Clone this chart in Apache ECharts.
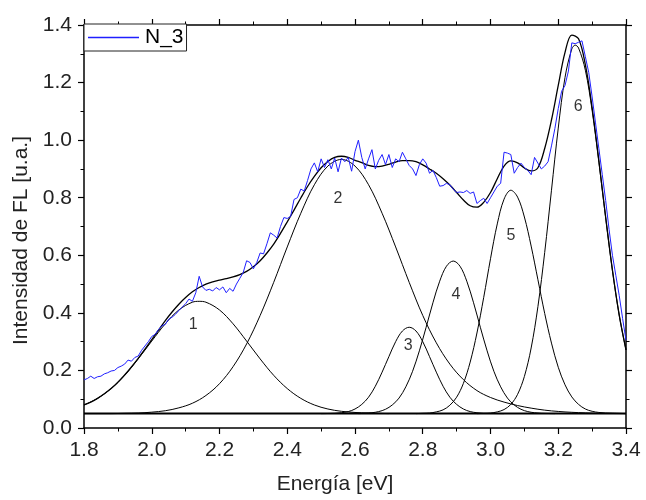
<!DOCTYPE html>
<html>
<head>
<meta charset="utf-8">
<script src="https://cdn.jsdelivr.net/npm/echarts@6/dist/echarts.min.js"></script>
<style>html,body{margin:0;padding:0;background:#fff}#c{width:646px;height:500px}</style>
</head>
<body>
<div id="c"></div>
<script>
// ---- Data ----
const n3Energy = [1.80,1.81,1.82,1.83,1.84,1.85,1.86,1.87,1.88,1.89,1.90,1.91,1.92,1.93,1.94,1.95,1.96,1.97,1.98,1.99,
2.00,2.01,2.02,2.03,2.04,2.05,2.06,2.07,2.08,2.09,2.10,2.11,2.12,2.13,2.14,2.15,2.16,2.17,2.18,2.19,
2.20,2.21,2.22,2.23,2.24,2.25,2.26,2.27,2.28,2.29,2.30,2.31,2.32,2.33,2.34,2.35,2.36,2.37,2.38,2.39,
2.40,2.41,2.42,2.43,2.44,2.45,2.46,2.47,2.48,2.49,2.50,2.51,2.52,2.53,2.54,2.55,2.56,2.57,2.58,2.59,
2.60,2.61,2.62,2.63,2.64,2.65,2.66,2.67,2.68,2.69,2.70,2.71,2.72,2.73,2.74,2.75,2.76,2.77,2.78,2.79,
2.80,2.81,2.82,2.83,2.84,2.85,2.86,2.87,2.88,2.89,2.90,2.91,2.92,2.93,2.94,2.95,2.96,2.97,2.98,2.99,
3.00,3.01,3.02,3.03,3.04,3.05,3.06,3.07,3.08,3.09,3.10,3.11,3.12,3.13,3.14,3.15,3.16,3.17,3.18,3.19,
3.20,3.21,3.22,3.23,3.24,3.25,3.26,3.27,3.28,3.29,3.30,3.31,3.32,3.33,3.34,3.35,3.36,3.37,3.38,3.39,3.40];
const n3Values = [0.167,0.172,0.180,0.172,0.178,0.180,0.188,0.192,0.198,0.200,0.210,0.215,0.222,0.236,0.232,0.245,0.250,0.270,0.285,0.300,
0.318,0.325,0.342,0.355,0.360,0.378,0.385,0.395,0.408,0.420,0.432,0.448,0.440,0.470,0.527,0.490,0.478,0.482,0.476,0.488,
0.480,0.490,0.470,0.485,0.475,0.500,0.520,0.540,0.581,0.575,0.553,0.575,0.608,0.605,0.640,0.678,0.670,0.660,0.700,0.731,
0.728,0.735,0.794,0.800,0.830,0.823,0.860,0.900,0.921,0.890,0.935,0.905,0.932,0.900,0.938,0.890,0.938,0.925,0.940,0.892,
0.960,1.000,0.940,0.900,0.935,0.967,0.900,0.930,0.950,0.915,0.950,0.905,0.935,0.925,0.958,0.935,0.912,0.900,0.877,0.915,
0.935,0.920,0.885,0.895,0.870,0.840,0.842,0.850,0.845,0.830,0.818,0.820,0.818,0.825,0.815,0.820,0.780,0.790,0.798,0.780,
0.800,0.820,0.840,0.850,0.958,0.955,0.950,0.885,0.905,0.920,0.905,0.895,0.880,0.940,0.920,0.900,0.910,0.925,0.980,1.040,
1.110,1.170,1.190,1.240,1.338,1.335,1.340,1.345,1.290,1.235,1.150,1.060,0.970,0.880,0.790,0.690,0.600,0.530,0.460,0.380,0.305];

const fitEnergy = [1.80,1.82,1.84,1.86,1.88,1.90,1.92,1.94,1.96,1.98,2.00,2.02,2.04,2.06,2.08,2.10,2.12,2.14,2.16,2.18,
2.20,2.22,2.24,2.26,2.28,2.30,2.32,2.34,2.36,2.38,2.40,2.42,2.44,2.46,2.48,2.50,2.52,2.54,2.56,2.58,
2.60,2.62,2.64,2.66,2.68,2.70,2.72,2.74,2.76,2.78,2.80,2.82,2.84,2.86,2.88,2.90,2.92,2.94,2.96,2.98,
3.00,3.02,3.04,3.06,3.08,3.10,3.12,3.14,3.16,3.18,3.20,3.22,3.24,3.26,3.28,3.30,3.32,3.34,3.36,3.38,3.40];
const fitTotal = [0.080,0.090,0.103,0.119,0.137,0.159,0.184,0.212,0.242,0.274,0.307,0.340,0.373,0.403,0.430,0.453,0.473,0.488,0.500,0.508,
0.514,0.519,0.525,0.533,0.544,0.560,0.581,0.608,0.639,0.676,0.716,0.757,0.799,0.839,0.874,0.904,0.926,0.940,0.944,0.940,
0.930,0.922,0.912,0.908,0.910,0.916,0.924,0.929,0.929,0.925,0.914,0.900,0.885,0.866,0.844,0.818,0.792,0.772,0.767,0.784,
0.818,0.866,0.910,0.928,0.921,0.903,0.893,0.904,0.971,1.070,1.190,1.305,1.365,1.352,1.262,1.113,0.928,0.732,0.548,0.392,0.271];

const peak1 = [[1.80,0.080],[1.84,0.103],[1.88,0.137],[1.92,0.183],[1.96,0.240],[2.00,0.302],[2.04,0.362],[2.08,0.410],[2.12,0.437],[2.14,0.440],[2.16,0.437],[2.20,0.410],[2.24,0.362],[2.28,0.302],[2.32,0.240],[2.36,0.183],[2.40,0.137],[2.44,0.103],[2.48,0.080],[2.52,0.066],[2.56,0.058],[2.60,0.054],[2.64,0.052],[2.70,0.050]];
const peak2 = [[1.80,0.050],[1.88,0.050],[1.92,0.051],[1.96,0.052],[2.00,0.055],[2.04,0.060],[2.08,0.070],[2.12,0.086],[2.16,0.113],[2.20,0.154],[2.24,0.213],[2.28,0.292],[2.32,0.391],[2.36,0.506],[2.40,0.629],[2.44,0.746],[2.48,0.845],[2.52,0.910],[2.56,0.933],[2.60,0.910],[2.64,0.845],[2.68,0.746],[2.72,0.629],[2.76,0.506],[2.80,0.391],[2.84,0.296],[2.88,0.222],[2.92,0.168],[2.96,0.130],[3.00,0.106],[3.04,0.090],[3.08,0.078],[3.12,0.069],[3.16,0.062],[3.20,0.0575],[3.24,0.0545],[3.28,0.0525],[3.32,0.051],[3.40,0.050]];
const peak3 = [[2.50,0.050],[2.54,0.051],[2.56,0.053],[2.58,0.057],[2.60,0.066],[2.62,0.082],[2.64,0.107],[2.66,0.145],[2.68,0.194],[2.70,0.248],[2.72,0.300],[2.74,0.337],[2.76,0.350],[2.78,0.337],[2.80,0.300],[2.82,0.248],[2.84,0.194],[2.86,0.145],[2.88,0.107],[2.90,0.082],[2.92,0.066],[2.94,0.057],[2.96,0.053],[2.98,0.051],[3.04,0.050]];
const peak4 = [[2.61,0.050],[2.63,0.051],[2.65,0.053],[2.67,0.057],[2.69,0.065],[2.71,0.080],[2.73,0.104],[2.75,0.143],[2.77,0.197],[2.79,0.268],[2.81,0.350],[2.83,0.435],[2.85,0.510],[2.87,0.562],[2.89,0.580],[2.91,0.562],[2.93,0.510],[2.95,0.435],[2.97,0.350],[2.99,0.268],[3.01,0.197],[3.03,0.143],[3.05,0.104],[3.07,0.080],[3.09,0.065],[3.11,0.057],[3.13,0.053],[3.15,0.051],[3.19,0.050]];
const peak5 = [[2.78,0.050],[2.80,0.051],[2.82,0.052],[2.84,0.056],[2.86,0.063],[2.88,0.079],[2.90,0.107],[2.92,0.155],[2.94,0.229],[2.96,0.330],[2.98,0.454],[3.00,0.588],[3.02,0.709],[3.04,0.795],[3.06,0.826],[3.08,0.802],[3.10,0.733],[3.12,0.632],[3.14,0.515],[3.16,0.398],[3.18,0.295],[3.20,0.211],[3.22,0.150],[3.24,0.108],[3.26,0.082],[3.28,0.066],[3.30,0.058],[3.32,0.054],[3.34,0.052],[3.36,0.0515],[3.40,0.050]];
const peak6 = [[2.96,0.050],[2.98,0.0507],[3.00,0.052],[3.02,0.056],[3.04,0.064],[3.06,0.082],[3.08,0.117],[3.10,0.179],[3.12,0.278],[3.14,0.422],[3.16,0.610],[3.18,0.826],[3.20,1.042],[3.22,1.218],[3.24,1.317],[3.25,1.330],[3.26,1.320],[3.28,1.243],[3.30,1.103],[3.32,0.923],[3.34,0.730],[3.36,0.547],[3.38,0.392],[3.40,0.271]];
const baseline = [[1.80,0.05],[3.40,0.05]];
const peakNames = ['1','2','3','4','5','6'];
const peakLabelAt = [[2.122,0.359],[2.550,0.797],[2.757,0.288],[2.898,0.464],[3.060,0.668],[3.259,1.117]];
const xTicks = {min:1.8, max:3.4, step:0.2};
const yTicks = {min:0.0, max:1.4, step:0.2};

// ---- Chart ----
const FONT = 'Liberation Sans, Arial, sans-serif';
const chart = echarts.init(document.getElementById('c'), null, {renderer:'canvas'});
function zip(xs, ys){ return xs.map((x,i)=>[x, ys[i]]); }
const axisCommon = {
  axisLine:{show:true, onZero:false, lineStyle:{color:'#000', width:1.5}},
  axisTick:{show:true, inside:false, length:6, lineStyle:{color:'#000', width:1.2}},
  minorTick:{show:true, splitNumber:2, length:3.5, lineStyle:{color:'#000', width:1}},
  splitLine:{show:false},
  minorSplitLine:{show:false}
};
const blackLine = (name, data, w) => ({
  name, type:'line', data, showSymbol:false, symbol:'none', smooth:0.35,
  lineStyle:{color:'#000', width:w}, silent:true, z:2
});
chart.setOption({
  animation:false,
  backgroundColor:'#fff',
  textStyle:{fontFamily:FONT},
  grid:{left:84, right:20, top:25, bottom:70, containLabel:false},
  legend:{
    data:[{name:'N_3', icon:'rect'}],
    left:84, top:24, orient:'horizontal',
    borderColor:'#222', borderWidth:1, borderRadius:0,
    padding:[3,3,3,4], itemWidth:51, itemHeight:1.4, itemGap:4,
    backgroundColor:'#fff',
    textStyle:{fontSize:21, color:'#000', fontFamily:FONT, padding:[0,0,0,1]}
  },
  xAxis:[
    Object.assign({type:'value', position:'bottom', min:xTicks.min, max:xTicks.max, interval:xTicks.step,
      name:'Energía [eV]', nameLocation:'middle', nameGap:46,
      nameTextStyle:{fontSize:21, color:'#222', fontFamily:FONT, padding:[0,40,0,0]},
      axisLabel:{fontSize:21, color:'#222', margin:12, fontFamily:FONT, formatter:v=>v.toFixed(1)}}, axisCommon),
    Object.assign({type:'value', position:'top', min:xTicks.min, max:xTicks.max, interval:xTicks.step,
      axisLabel:{show:false}}, axisCommon)
  ],
  yAxis:[
    Object.assign({type:'value', position:'left', min:yTicks.min, max:yTicks.max, interval:yTicks.step,
      name:'Intensidad de FL [u.a.]', nameLocation:'middle', nameGap:52,
      nameTextStyle:{fontSize:21, color:'#222', fontFamily:FONT, padding:[0,28,0,0]},
      axisLabel:{fontSize:21, color:'#222', margin:12, fontFamily:FONT, formatter:v=>v.toFixed(1)}}, axisCommon),
    Object.assign({type:'value', position:'right', min:yTicks.min, max:yTicks.max, interval:yTicks.step,
      axisLabel:{show:false}}, axisCommon)
  ],
  series:[
    {name:'baseline', type:'line', data:baseline, showSymbol:false, symbol:'none',
      lineStyle:{color:'#000', width:2}, silent:true, z:2},
    blackLine('p1', peak1, 1),
    blackLine('p2', peak2, 1),
    blackLine('p3', peak3, 1),
    blackLine('p4', peak4, 1),
    blackLine('p5', peak5, 1),
    blackLine('p6', peak6, 1),
    {name:'N_3', type:'line', data:zip(n3Energy, n3Values), showSymbol:false, symbol:'none',
      lineStyle:{color:'#1f1fff', width:1}, itemStyle:{color:'#1f1fff'}, silent:true, z:3},
    blackLine('fit', zip(fitEnergy, fitTotal), 1.3),
    {name:'labels', type:'scatter', symbolSize:0, silent:true, z:5,
      data:peakLabelAt.map((p,i)=>({value:p, name:peakNames[i]})),
      label:{show:true, position:'inside', formatter:p=>p.name, fontSize:16, color:'#000', fontFamily:FONT}}
  ]
});
</script>
</body>
</html>
